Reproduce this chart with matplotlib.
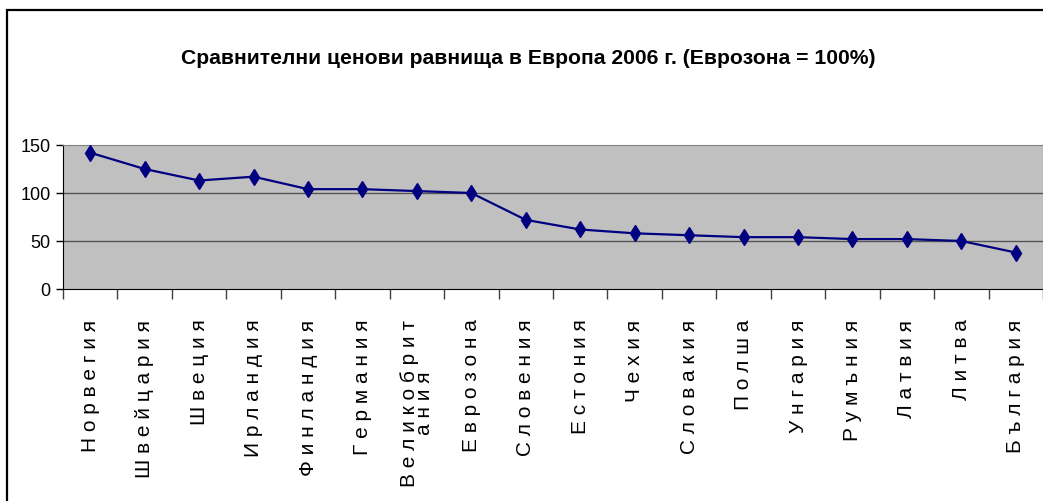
import matplotlib.pyplot as plt
from matplotlib.patches import Rectangle

plt.rcParams['font.family'] = ['Liberation Sans', 'DejaVu Sans']

countries = ['Норвегия', 'Швейцария', 'Швеция', 'Ирландия', 'Финландия', 'Германия',
             'Великобрит\nания', 'Еврозона', 'Словения', 'Естония', 'Чехия', 'Словакия',
             'Полша', 'Унгария', 'Румъния', 'Латвия', 'Литва', 'България']
price_levels = [142, 125, 113, 117, 104, 104, 102, 100, 72, 62, 58, 56,
                54, 54, 52, 52, 50, 38]
y_ticks = [0, 50, 100, 150]

# Excel-style spaced letters
labels = ['\n'.join(' '.join(part) for part in name.split('\n')) for name in countries]

fig = plt.figure(figsize=(10.43, 5.01), dpi=100)
fig.patches.append(Rectangle((7 / 1043, -0.1), 1.2, 1.1 - 10 / 501,
                             transform=fig.transFigure, fill=False,
                             edgecolor='black', linewidth=1.6))

ax = fig.add_axes([63 / 1043, 1 - 289 / 501, 1 - 63 / 1043, 144 / 501])
ax.set_facecolor('#c0c0c0')

x = list(range(len(countries)))
ax.plot(x, price_levels, color='#000080', linewidth=1.6, marker='d',
        markersize=8, markerfacecolor='#000080', markeredgecolor='#000080', zorder=3)

ax.set_xlim(-0.5, len(countries) - 0.5)
ax.set_ylim(0, 150)
ax.set_yticks(y_ticks)
ax.set_yticklabels([str(v) for v in y_ticks], fontsize=13)
ax.tick_params(axis='y', direction='out', length=5, width=1, pad=4, color='black')

ax.set_xticks([i - 0.5 for i in range(len(countries) + 1)])
ax.set_xticklabels([])
ax.tick_params(axis='x', which='major', direction='out', length=7, width=1, color='#404040')
ax.set_xticks(x, minor=True)
ax.set_xticklabels(labels, minor=True, rotation=90, fontsize=15, va='top',
                   ha='center', linespacing=0.75)
ax.tick_params(axis='x', which='minor', length=0, pad=22)

for v in [50, 100]:
    ax.axhline(v, color='#555555', linewidth=1, zorder=1)

ax.spines['top'].set_color('#808080')
ax.spines['right'].set_visible(False)
ax.spines['left'].set_color('black')
ax.spines['bottom'].set_color('black')

fig.text(528 / 1043, 1 - 58 / 501,
         'Сравнителни ценови равнища в Европа 2006 г. (Еврозона = 100%)',
         ha='center', va='center', fontsize=15.2, fontweight='bold')

fig.savefig('out.png', dpi=100)
